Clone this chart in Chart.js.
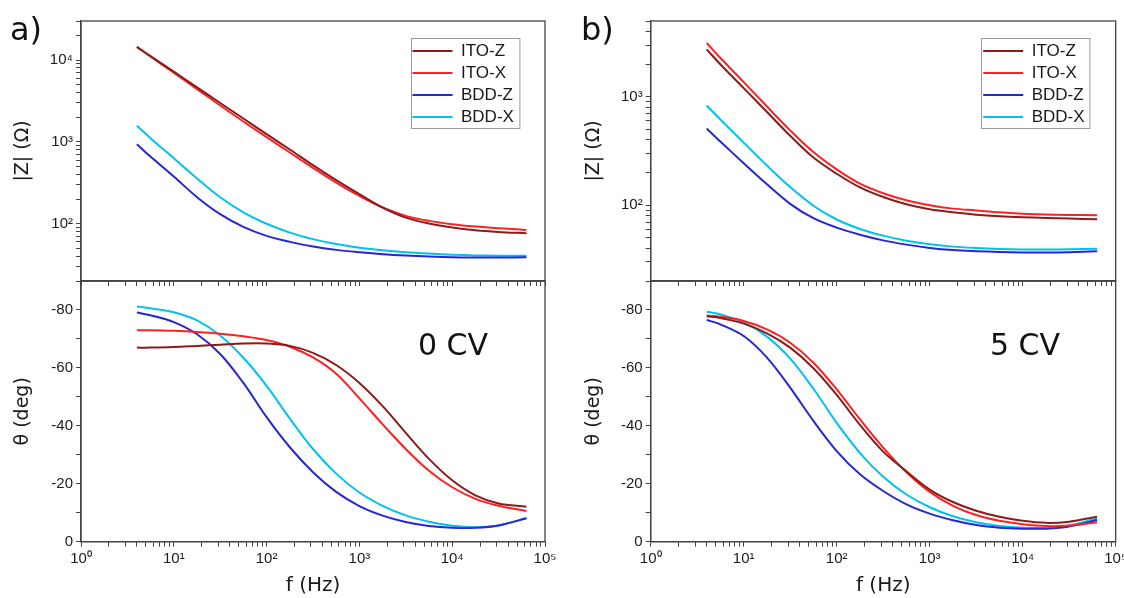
<!DOCTYPE html>
<html>
<head>
<meta charset="utf-8">
<script src="https://cdn.jsdelivr.net/npm/chart.js@4.4.1/dist/chart.umd.min.js"></script>
<style>
html,body{margin:0;padding:0;background:#fff;}
body{width:1124px;height:598px;position:relative;overflow:hidden;}
canvas{position:absolute;}
.lbl{position:absolute;font-family:'DejaVu Sans',sans-serif;line-height:1;color:#111;white-space:nowrap;}
</style>
</head>
<body>
<canvas id="aBot" width="560" height="328" style="left:0;top:270px"></canvas>
<canvas id="bBot" width="564" height="328" style="left:560px;top:270px"></canvas>
<canvas id="aTop" width="560" height="290" style="left:0;top:0"></canvas>
<canvas id="bTop" width="564" height="290" style="left:560px;top:0"></canvas>
<div class="lbl" style="left:10px;top:13px;font-size:32px">a)</div>
<div class="lbl" style="left:581px;top:13px;font-size:32px">b)</div>
<div class="lbl" style="left:418px;top:330px;font-size:30px">0 CV</div>
<div class="lbl" style="left:990px;top:330px;font-size:30px">5 CV</div>
<script>
// ---------- data ----------
const freqHz = [4, 5.6, 10, 17.8, 31.6, 56.2, 100, 178, 316, 562, 1000, 1780, 3160, 5620, 10000, 17800, 31600, 63100];
const seriesNames = ['ITO-Z', 'ITO-X', 'BDD-Z', 'BDD-X'];
const seriesColors = ['#8c1b1b', '#ff2020', '#2626d6', '#00c2ee'];

// panel a (0 CV) : |Z| in ohm
const zA_itoZ = [14540, 11180, 7220, 4645, 2987, 1934, 1244, 808, 520, 341, 230, 158, 119, 100.6, 89.9, 83.4, 79.6, 76.7];
const zA_itoX = [14400, 11080, 6995, 4416, 2789, 1777, 1144, 743, 482, 319, 219, 158, 125, 108.5, 98.8, 92.5, 88.2, 84.2];
const zA_bddZ = [939, 663, 378, 211, 131, 91.6, 71.1, 60.1, 52.7, 48.0, 44.9, 42.5, 40.9, 39.8, 39.0, 38.7, 38.7, 39.0];
const zA_bddX = [1574, 1112, 631, 357, 211, 138, 100, 78, 64.9, 56.5, 51.1, 47.4, 44.9, 43.2, 41.9, 41.1, 40.7, 40.7];
// panel a (0 CV) : phase in deg
const thA_itoZ = [-67.0, -67.0, -67.2, -67.6, -68.0, -68.4, -68.4, -67.6, -65.2, -61.0, -54.8, -46.8, -37.6, -28.6, -21.2, -16.0, -13.2, -12.1];
const thA_itoX = [-73.0, -73.0, -72.8, -72.4, -71.8, -70.9, -69.6, -67.3, -63.6, -58.0, -49.5, -40.5, -32.0, -24.5, -18.8, -14.8, -12.4, -10.6];
const thA_bddZ = [-79.1, -78.2, -75.8, -71.6, -64.8, -54.8, -43.0, -32.6, -24.0, -17.2, -12.3, -9.0, -6.8, -5.4, -4.8, -4.8, -5.6, -8.1];
const thA_bddX = [-81.2, -80.6, -79.2, -76.4, -71.2, -63.5, -53.8, -42.5, -32.0, -23.5, -17.0, -12.4, -9.1, -6.9, -5.5, -5.0, -5.6, -8.1];
// panel b (5 CV) : |Z| in ohm
const zB_itoZ = [2735, 1995, 1202, 724, 437, 275, 195, 146, 119, 102, 92, 86, 81.7, 79, 77.4, 76.4, 75.3, 74.3];
const zB_itoX = [3135, 2290, 1365, 813, 490, 309, 214, 158, 129, 111, 100, 93, 89.5, 86, 83.6, 82, 81.3, 81];
const zB_bddZ = [510, 387, 244, 156, 103, 75.9, 62.1, 53.5, 47.4, 43.3, 40.4, 38.6, 37.7, 37.1, 36.7, 36.6, 36.9, 37.6];
const zB_bddX = [832, 619, 378, 232, 147, 98.9, 73.8, 60.4, 52.4, 47.1, 43.7, 41.5, 40.3, 39.5, 39.1, 39.0, 39.2, 39.6];
// panel b (5 CV) : phase in deg
const thB_itoZ = [-77.8, -77.2, -75.3, -71.95, -67.0, -59.9, -50.7, -40.3, -31.1, -24.3, -18.0, -13.7, -10.7, -8.6, -7.2, -6.5, -6.9, -8.6];
const thB_itoX = [-78.05, -77.7, -76.2, -73.3, -68.7, -61.8, -52.6, -42.25, -32.5, -24.0, -17.2, -12.4, -9.2, -7.2, -6.0, -5.4, -5.6, -6.7];
const thB_bddZ = [-76.55, -75.05, -71.0, -63.55, -53.2, -41.7, -31.3, -23.25, -17.5, -12.9, -9.7, -7.4, -5.75, -4.85, -4.5, -4.5, -5.2, -7.5];
const thB_bddX = [-79.4, -78.5, -75.7, -70.8, -63.2, -52.8, -41.0, -30.6, -22.4, -16.3, -11.9, -8.8, -6.7, -5.4, -4.8, -4.8, -5.6, -8.0];

// tick labels
const powerLabels = ['10\u2070', '10\u00b9', '10\u00b2', '10\u00b3', '10\u2074', '10\u2075'];
const thetaTickValues = [-80, -60, -40, -20, 0];
const thetaTickLabels = ['-80', '-60', '-40', '-20', '0'];

// ---------- helpers ----------
const tickFont = {family: "'Liberation Sans', Arial, sans-serif", size: 15};
const titleFont = {family: "'DejaVu Sans', sans-serif", size: 19};
const axisColor = '#444';
const textColor = '#1a1a1a';

function makeSets(valueLists) {
  return valueLists.map((vals, i) => ({
    label: seriesNames[i],
    data: freqHz.map((f, j) => ({x: f, y: vals[j]})),
    borderColor: seriesColors[i],
    backgroundColor: seriesColors[i],
    borderWidth: 2,
    pointRadius: 0,
    pointHoverRadius: 0,
    fill: false,
    tension: 0.35
  }));
}

function logTicks(scale) {
  const t = [];
  const e0 = Math.floor(Math.log10(scale.min) + 1e-9);
  const e1 = Math.ceil(Math.log10(scale.max) - 1e-9);
  for (let e = e0; e <= e1; e++) {
    for (let m = 1; m <= 9; m++) {
      const v = m * Math.pow(10, e);
      if (v >= scale.min * (1 - 1e-9) && v <= scale.max * (1 + 1e-9)) t.push({value: v});
    }
  }
  scale.ticks = t;
}
function powLabel(v) {
  const e = Math.round(Math.log10(v));
  return Math.abs(v - Math.pow(10, e)) < 1e-6 * v ? (powerLabels[e] || '') : '';
}
function thetaLabel(v) {
  const i = thetaTickValues.indexOf(v);
  return i >= 0 ? thetaTickLabels[i] : '';
}

const gridOpt = {drawOnChartArea: false, drawTicks: true, tickLength: 5, color: axisColor, tickColor: axisColor, lineWidth: 1};
const borderOpt = {display: true, color: axisColor, width: 1.3};

const framePlugin = {
  id: 'frame',
  afterDraw(chart) {
    const {ctx, chartArea: a} = chart;
    ctx.save();
    ctx.strokeStyle = axisColor;
    ctx.lineWidth = 1.3;
    ctx.strokeRect(a.left, a.top, a.right - a.left, a.bottom - a.top);
    ctx.restore();
  }
};
const legendPlace = {
  id: 'legendPlace',
  afterLayout(chart) {
    const lg = chart.legend;
    if (!lg || !lg.options.display) return;
    const a = chart.chartArea;
    const w = lg.width, h = lg.height;
    lg.left = a.right - 137.5;
    lg.top = a.top + 16.5;
    lg.right = lg.left + w;
    lg.bottom = lg.top + h;
  },
  afterDraw(chart) {
    const lg = chart.legend;
    if (!lg || !lg.options.display || !lg.columnSizes || !lg.columnSizes.length) return;
    const pad = lg.options.labels.padding;
    const col = lg.columnSizes[0];
    const ctx = chart.ctx;
    ctx.save();
    ctx.strokeStyle = '#9a9a9a';
    ctx.lineWidth = 1;
    ctx.strokeRect(Math.round(lg.left + 3) + 0.5, Math.round(lg.top) + 0.5, col.width + 2 * pad - 3, col.height + 2);
    ctx.restore();
  }
};

function makeChart(id, cfg) {
  const isTop = cfg.top;
  const xScale = {
    type: 'logarithmic', min: 1, max: 100000,
    afterBuildTicks: logTicks,
    grid: gridOpt, border: borderOpt,
    ticks: {display: !isTop, autoSkip: false, maxRotation: 0, minRotation: 0, font: tickFont, color: textColor, padding: 3, callback: powLabel},
    title: isTop ? {display: false} : {display: true, text: 'f (Hz)', font: {family: "'DejaVu Sans', sans-serif", size: 20}, color: textColor, padding: {top: 0, bottom: 0}},
    afterFit: s => { s.height = isTop ? 9 : 56.3; s.paddingLeft = 0; s.paddingRight = 0; }
  };
  const yScale = isTop ? {
    type: 'logarithmic', min: cfg.ymin, max: cfg.ymax,
    afterBuildTicks: logTicks,
    grid: gridOpt, border: borderOpt,
    ticks: {autoSkip: false, font: tickFont, color: textColor, padding: 3, callback: powLabel},
    title: {display: true, text: '|Z| (\u03a9)', font: titleFont, color: textColor, padding: {top: cfg.titlePad, bottom: 0}},
    afterFit: s => { s.width = cfg.yw; s.paddingTop = 0; s.paddingBottom = 0; }
  } : {
    type: 'linear', min: -90, max: 0, reverse: true,
    grid: gridOpt, border: borderOpt,
    ticks: {stepSize: 10, autoSkip: false, font: tickFont, color: textColor, padding: 3, callback: thetaLabel},
    title: {display: true, text: '\u03b8 (deg)', font: titleFont, color: textColor, padding: {top: cfg.titlePad, bottom: 0}},
    afterFit: s => { s.width = cfg.yw; s.paddingTop = 0; s.paddingBottom = 0; }
  };
  return new Chart(document.getElementById(id), {
    type: 'line',
    data: {datasets: makeSets(cfg.values)},
    options: {
      responsive: false,
      animation: false,
      events: [],
      layout: {padding: {left: 0, right: cfg.padRight, top: isTop ? 21 : 11, bottom: 0}},
      plugins: {
        tooltip: {enabled: false},
        legend: {
          display: isTop,
          position: 'chartArea',
          align: 'start',
          labels: {
            usePointStyle: true, pointStyle: 'line', pointStyleWidth: 40,
            font: {family: "'Liberation Sans', Arial, sans-serif", size: 17},
            color: textColor, padding: 5
          }
        }
      },
      scales: {x: xScale, y: yScale}
    },
    plugins: [framePlugin, legendPlace]
  });
}

makeChart('aTop', {top: true, values: [zA_itoZ, zA_itoX, zA_bddZ, zA_bddX], ymin: 20, ymax: 30000, yw: 81, padRight: 15, titlePad: 11.6});
makeChart('aBot', {top: false, values: [thA_itoZ, thA_itoX, thA_bddZ, thA_bddX], yw: 81, padRight: 15, titlePad: 11.6});
makeChart('bTop', {top: true, values: [zB_itoZ, zB_itoX, zB_bddZ, zB_bddX], ymin: 20, ymax: 5000, yw: 90.7, padRight: 8.3, titlePad: 22.6});
makeChart('bBot', {top: false, values: [thB_itoZ, thB_itoX, thB_bddZ, thB_bddX], yw: 90.7, padRight: 8.3, titlePad: 22.6});
</script>
</body>
</html>
